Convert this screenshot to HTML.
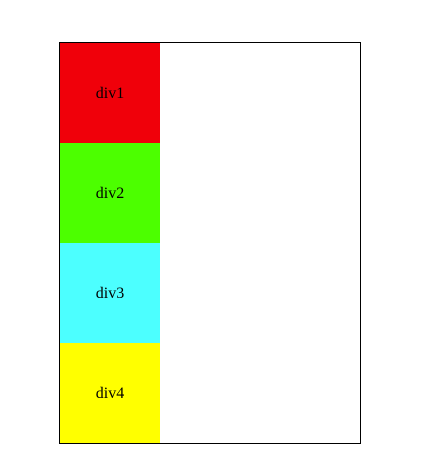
<!DOCTYPE html>
<html><head><style>
body{margin:0;width:426px;height:455px;background:#fff;position:relative;font-family:"Liberation Serif",serif;font-size:16px;}
#c{position:absolute;left:59px;top:42px;width:300px;height:400px;border:1px solid #000;}
.b{width:100px;height:100px;display:flex;align-items:center;justify-content:center;color:#000;padding-top:1px;box-sizing:border-box;}
</style></head><body>
<div id="c">
<div class="b" style="background:#f0000a">div1</div>
<div class="b" style="background:#4cff00">div2</div>
<div class="b" style="background:#4cffff">div3</div>
<div class="b" style="background:#ffff00">div4</div>
</div>
</body></html>
